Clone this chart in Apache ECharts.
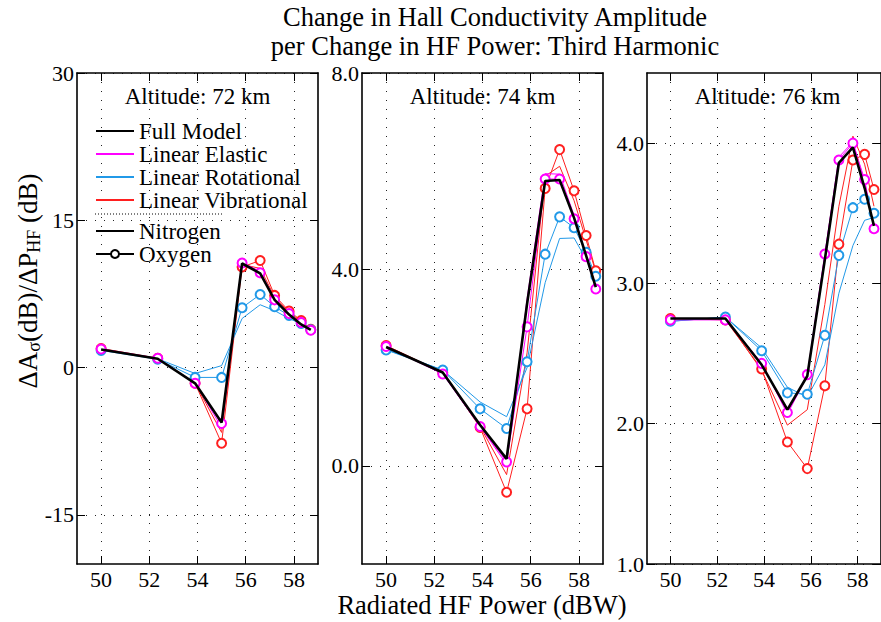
<!DOCTYPE html>
<html>
<head>
<meta charset="utf-8">
<title>Hall Conductivity Third Harmonic</title>
<script src="https://cdn.jsdelivr.net/npm/echarts@6/dist/echarts.min.js"></script>
<style>
    html, body { margin: 0; padding: 0; background: #fff; }
    #js-chart { width: 881px; height: 622px; }
</style>
</head>
<body>
<div id="js-chart"></div>
<script>
// radiated HF power (dBW), same for every curve
var powerDbw = [50, 52.35, 53.9, 55.0, 55.85, 56.6, 57.2, 57.8, 58.3, 58.7];

// 72 km
var full72 = [1.85, 0.9, -1.6, -5.6, 10.6, 9.6, 6.9, 5.4, 4.4, 3.85];
var elasticN72 = [1.85, 0.9, -1.55, -6.1, 10.7, 9.8, 7.0, 5.45, 4.55, 3.8];
var elasticO72 = [1.9, 0.95, -1.6, -5.7, 10.65, 9.65, 6.9, 5.5, 4.6, 3.8];
var rotN72 = [1.8, 0.9, -0.6, 0.2, 5.0, 6.4, 5.8, 5.0, 4.45, 3.85];
var rotO72 = [1.75, 0.85, -1.0, -1.0, 6.1, 7.45, 6.2, 5.3, 4.5, 3.85];
var vibN72 = [1.9, 0.9, -1.6, -6.6, 10.5, 10.1, 7.2, 5.6, 4.7, 3.9];
var vibO72 = [1.95, 0.95, -1.6, -7.7, 10.25, 10.9, 7.35, 5.75, 4.8, 3.9];

// 74 km
var full74 = [2.42, 1.9, 0.83, 0.14, 3.3, 5.8, 5.82, 5.05, 4.28, 3.64];
var elasticN74 = [2.42, 1.88, 0.8, 0.03, 3.4, 5.95, 5.94, 5.1, 4.3, 3.63];
var elasticO74 = [2.43, 1.87, 0.8, 0.08, 2.83, 5.84, 5.84, 5.03, 4.26, 3.6];
var rotN74 = [2.37, 1.95, 1.3, 1.0, 2.0, 3.73, 4.63, 4.64, 4.2, 3.93];
var rotO74 = [2.36, 1.95, 1.16, 0.76, 2.12, 4.31, 5.07, 4.85, 4.35, 3.86];
var vibN74 = [2.44, 1.9, 0.8, -0.18, 2.3, 5.9, 6.1, 5.4, 4.6, 3.95];
var vibO74 = [2.45, 1.9, 0.78, -0.54, 1.16, 5.65, 6.44, 5.6, 4.69, 3.97];

// 76 km
var full76 = [2.75, 2.75, 2.42, 2.1, 2.34, 3.17, 3.86, 3.97, 3.68, 3.41];
var elasticN76 = [2.75, 2.75, 2.43, 2.07, 2.34, 3.2, 3.9, 4.01, 3.72, 3.4];
var elasticO76 = [2.74, 2.74, 2.43, 2.08, 2.35, 3.21, 3.88, 4.0, 3.74, 3.39];
var rotN76 = [2.73, 2.76, 2.54, 2.26, 2.19, 2.42, 2.93, 3.27, 3.45, 3.47];
var rotO76 = [2.73, 2.76, 2.52, 2.22, 2.21, 2.63, 3.2, 3.54, 3.6, 3.5];
var vibN76 = [2.75, 2.75, 2.38, 1.99, 2.1, 2.85, 3.55, 4.05, 3.85, 3.55];
var vibO76 = [2.75, 2.74, 2.39, 1.87, 1.68, 2.27, 3.28, 3.88, 3.92, 3.67];

var altitudes = ["Altitude: 72 km", "Altitude: 74 km", "Altitude: 76 km"];
var xTicks = [50, 52, 54, 56, 58];
var yTicks72 = [-15, 0, 15, 30];
var yTicks74 = [0, 4, 8];
var yTicks76 = [1, 2, 3, 4];

var FONT = "'Liberation Serif', 'DejaVu Serif', serif";
var COLORS = {full: "#000000", elastic: "#ff00ff", rot: "#2199e8", vib: "#ff1f1f"};
var CLEAR = "rgba(0,0,0,0)";

var panels = [
    {left: 77, yMin: -20, yMax: 30, ticks: yTicks72, digits: 0,
        full: full72, eN: elasticN72, eO: elasticO72, rN: rotN72, rO: rotO72, vN: vibN72, vO: vibO72},
    {left: 362, yMin: -2, yMax: 8, ticks: yTicks74, digits: 1,
        full: full74, eN: elasticN74, eO: elasticO74, rN: rotN74, rO: rotO74, vN: vibN74, vO: vibO74},
    {left: 647, yMin: 1, yMax: 4.5, ticks: yTicks76, digits: 1,
        full: full76, eN: elasticN76, eO: elasticO76, rN: rotN76, rO: rotO76, vN: vibN76, vO: vibO76}
];

function pairs(values) {
    var out = [];
    for (var i = 0; i < values.length; i++) {
        out.push([powerDbw[i], values[i]]);
    }
    return out;
}

var gridLine = {show: true, lineStyle: {color: "#222", width: 1, type: [1, 8]}};
var frameLine = {show: true, onZero: false, lineStyle: {color: "#000", width: 1.6}};

var grids = [], xAxes = [], yAxes = [], series = [], graphics = [];

panels.forEach(function (p, i) {
    grids.push({left: p.left, top: 73, width: 241, height: 491});

    xAxes.push({
        type: "value", gridIndex: i, min: 49, max: 59, position: "bottom",
        axisLine: frameLine,
        axisTick: {show: true, inside: true, length: 8, lineStyle: {color: "#000"}, customValues: xTicks},
        axisLabel: {customValues: xTicks, color: "#000", fontFamily: FONT, fontSize: 22, margin: 4},
        splitLine: gridLine
    });
    xAxes.push({
        type: "value", gridIndex: i, min: 49, max: 59, position: "top",
        axisLine: frameLine,
        axisTick: {show: true, inside: true, length: 8, lineStyle: {color: "#000"}, customValues: xTicks},
        axisLabel: {show: false},
        splitLine: {show: false}
    });
    yAxes.push({
        type: "value", gridIndex: i, min: p.yMin, max: p.yMax, position: "left",
        axisLine: frameLine,
        axisTick: {show: true, inside: true, length: 8, lineStyle: {color: "#000"}, customValues: p.ticks},
        axisLabel: {
            customValues: p.ticks, color: "#000", fontFamily: FONT, fontSize: 22, margin: 3,
            formatter: function (v) { return v.toFixed(p.digits); }
        },
        splitLine: gridLine
    });
    yAxes.push({
        type: "value", gridIndex: i, min: p.yMin, max: p.yMax, position: "right",
        axisLine: frameLine,
        axisTick: {show: true, inside: true, length: 8, lineStyle: {color: "#000"}, customValues: p.ticks},
        axisLabel: {show: false},
        splitLine: {show: false}
    });

    var curves = [
        {key: "vN", color: COLORS.vib, oxy: false},
        {key: "vO", color: COLORS.vib, oxy: true},
        {key: "rN", color: COLORS.rot, oxy: false},
        {key: "rO", color: COLORS.rot, oxy: true},
        {key: "eN", color: COLORS.elastic, oxy: false},
        {key: "eO", color: COLORS.elastic, oxy: true},
        {key: "full", color: COLORS.full, oxy: false, width: 2.6}
    ];
    curves.forEach(function (c) {
        series.push({
            name: altitudes[i] + " " + c.key,
            type: "line",
            xAxisIndex: i * 2,
            yAxisIndex: i * 2,
            data: pairs(p[c.key]),
            symbol: c.oxy ? "emptyCircle" : "none",
            symbolSize: 9,
            showSymbol: c.oxy,
            lineStyle: {color: c.color, width: c.width || 1},
            itemStyle: {color: c.color, borderWidth: 1},
            z: c.key === "full" ? 5 : 2
        });
    });

    graphics.push({
        type: "text", x: p.left + 120.5, y: 96,
        style: {text: altitudes[i], fontFamily: FONT, fontSize: 23, fill: "#000", align: "center", verticalAlign: "middle"}
    });
});

// legend-only series
var legendItems = [
    {name: "Full Model", color: "#000", width: 2.6, oxy: false},
    {name: "Linear Elastic", color: COLORS.elastic, width: 1, oxy: false},
    {name: "Linear Rotational", color: COLORS.rot, width: 1, oxy: false},
    {name: "Linear Vibrational", color: COLORS.vib, width: 1, oxy: false},
    {name: "Nitrogen", color: "#000", width: 1, oxy: false},
    {name: "Oxygen", color: "#000", width: 1, oxy: true}
];
legendItems.forEach(function (l) {
    series.push({
        name: l.name, type: "line", xAxisIndex: 0, yAxisIndex: 0, data: [],
        symbol: l.oxy ? "emptyCircle" : "circle", symbolSize: 9,
        lineStyle: {color: l.color, width: l.width},
        itemStyle: l.oxy ? {color: l.color, borderWidth: 1} : {color: CLEAR, borderColor: CLEAR, borderWidth: 0}
    });
});

var legendText = {color: "#000", fontFamily: FONT, fontSize: 23, lineHeight: 23};

graphics.push(
    {
        type: "text", x: 495, y: 17,
        style: {text: "Change in Hall Conductivity Amplitude", fontFamily: FONT, fontSize: 26.5, fill: "#000", align: "center", verticalAlign: "middle"}
    },
    {
        type: "text", x: 495, y: 46,
        style: {text: "per Change in HF Power: Third Harmonic", fontFamily: FONT, fontSize: 26.5, fill: "#000", align: "center", verticalAlign: "middle"}
    },
    {
        type: "text", x: 482, y: 605,
        style: {text: "Radiated HF Power (dBW)", fontFamily: FONT, fontSize: 26.5, fill: "#000", align: "center", verticalAlign: "middle"}
    },
    {
        type: "text", x: 28, y: 281, rotation: Math.PI / 2,
        style: {
            text: "{a|ΔA}{s|σ}{a|(dB)/ΔP}{s|HF}{a| (dB)}",
            align: "center", verticalAlign: "middle",
            rich: {
                a: {fontFamily: FONT, fontSize: 27, fill: "#000", lineHeight: 30},
                s: {fontFamily: FONT, fontSize: 18, fill: "#000", lineHeight: 12, verticalAlign: "bottom"}
            }
        }
    },
    {
        type: "line", shape: {x1: 95, y1: 214, x2: 222, y2: 214},
        style: {stroke: "#000", lineWidth: 1, lineDash: [1, 2]}
    }
);

var chart = echarts.init(document.getElementById("js-chart"), null, {renderer: "svg"});
chart.setOption({
    animation: false,
    backgroundColor: "#fff",
    grid: grids,
    xAxis: xAxes,
    yAxis: yAxes,
    legend: [
        {
            data: ["Full Model", "Linear Elastic", "Linear Rotational", "Linear Vibrational"],
            orient: "vertical", left: 95, top: 119.5, itemWidth: 38, itemHeight: 10, itemGap: 0,
            padding: 0, textStyle: legendText, selectedMode: false
        },
        {
            data: ["Nitrogen", "Oxygen"],
            orient: "vertical", left: 95, top: 219.5, itemWidth: 38, itemHeight: 10, itemGap: 0,
            padding: 0, textStyle: legendText, selectedMode: false
        }
    ],
    graphic: graphics,
    series: series
});
</script>
</body>
</html>
